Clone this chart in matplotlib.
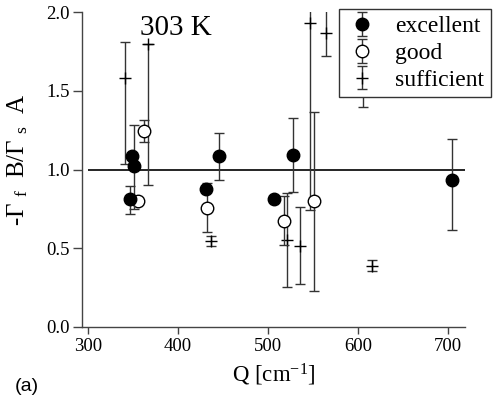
import matplotlib
matplotlib.use("Agg")
import matplotlib.pyplot as plt
import numpy as np

plt.rcParams['font.family'] = ['Liberation Serif', 'DejaVu Serif']
plt.rcParams['mathtext.fontset'] = 'custom'
plt.rcParams['mathtext.rm'] = 'Liberation Serif'
plt.rcParams['mathtext.it'] = 'Liberation Serif:italic'

# excellent (filled circles)
exc_q = [346, 348.5, 350.5, 430.5, 445, 506.5, 528, 705]
exc_y = [0.81, 1.085, 1.02, 0.877, 1.085, 0.81, 1.09, 0.935]
exc_lo = [0.09, 0, 0.27, 0, 0.15, 0, 0.235, 0.32]
exc_hi = [0.085, 0, 0.265, 0, 0.15, 0, 0.235, 0.26]

# good (open circles)
good_q = [355, 362.5, 432.5, 518, 551.5]
good_y = [0.798, 1.244, 0.756, 0.675, 0.798]
good_err = [0.02, 0.07, 0.155, 0.155, 0.568]

# sufficient (plus markers)
suf_q = [341, 367, 436.5, 521, 535.5, 547, 565, 606, 616]
suf_y = [1.584, 1.80, 0.543, 0.55, 0.516, 1.934, 1.87, 1.70, 0.389]
suf_lo = [0.548, 0.90, 0.032, 0.30, 0.243, 1.19, 0.15, 0.30, 0.035]
suf_hi = [0.226, 0, 0.032, 0.30, 0.243, 1.19, 0.15, 0.30, 0.035]

serif = 'Liberation Serif'

fig = plt.figure(figsize=(4.97, 4.01), dpi=100)
ax = fig.add_axes([0.1644, 0.1853, 0.7712, 0.784])

ax.hlines(1.0, 300, 720, color='black', lw=1.2, zorder=1)

eb = dict(ecolor='#333333', elinewidth=1.0, capsize=3.5, capthick=1.0, linestyle='none')
ax.errorbar(suf_q, suf_y, yerr=[suf_lo, suf_hi], fmt='+', color='black',
            ms=9, mew=1.0, label='sufficient', zorder=2, **eb)
ax.errorbar(good_q, good_y, yerr=good_err, fmt='o', mfc='white', mec='black',
            ms=9, mew=1.0, label='good', zorder=3, **eb)
ax.errorbar(exc_q, exc_y, yerr=[exc_lo, exc_hi], fmt='o', color='black',
            ms=9, label='excellent', zorder=4, **eb)

ax.set_xlim(292.7, 719.3)
ax.set_ylim(0, 2.0)
ax.set_xticks([300, 400, 500, 600, 700])
ax.set_xticklabels(['300', '400', '500', '600', '700'], family=serif)
ax.set_yticks([0.0, 0.5, 1.0, 1.5, 2.0])
ax.set_yticklabels(['0.0', '0.5', '1.0', '1.5', '2.0'], family=serif)
ax.tick_params(axis='both', labelsize=13.5, color='#444444', width=1.0)
ax.tick_params(axis='y', length=6.5, pad=2)
ax.tick_params(axis='x', length=5, pad=3)
for s in ['top', 'right']:
    ax.spines[s].set_visible(False)
for s in ['left', 'bottom']:
    ax.spines[s].set_color('#444444')
    ax.spines[s].set_linewidth(1.0)

ax.set_xlabel('Q [cm$^{-1}$]', fontsize=16.5, labelpad=5, family=serif)
ax.set_ylabel('-Γ $_{\\rm f}$  B/Γ $_{\\rm s}$  A', fontsize=18, family=serif)
ax.yaxis.set_label_coords(-0.135, 0.53)

ax.text(398, 1.90, '303 K', fontsize=21, ha='center', va='center', family=serif)
fig.text(0.03, 0.025, '(a)', fontsize=14, family='Liberation Sans')

h, l = ax.get_legend_handles_labels()
order = [2, 1, 0]
leg = ax.legend([h[i] for i in order], [l[i] for i in order],
                loc='upper right', bbox_to_anchor=(0.988, 0.977),
                bbox_transform=fig.transFigure, borderaxespad=0,
                prop=dict(family=serif, size=17), frameon=True, fancybox=False,
                edgecolor='#333333', framealpha=1, borderpad=0.28,
                labelspacing=0.22, handlelength=1.4, handletextpad=0.7)
leg.get_frame().set_linewidth(1.0)
leg.set_zorder(10)

fig.savefig('out.png', dpi=100)
